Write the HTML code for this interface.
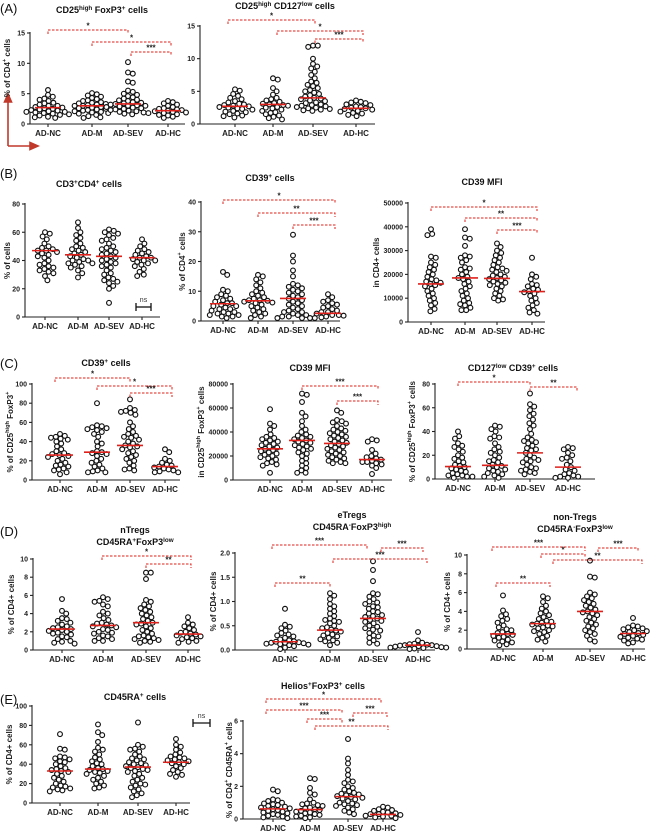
<!DOCTYPE html>
<html><head><meta charset="utf-8"><style>
html,body{margin:0;padding:0;background:#fff}
svg{display:block;font-family:"Liberation Sans",Arial,sans-serif}
</style></head><body>
<svg id="fig" width="667" height="833" viewBox="0 0 667 833" xmlns="http://www.w3.org/2000/svg">
<g font-size="13" fill="#111">
<text x="0" y="13">(A)</text>
<text x="0" y="178">(B)</text>
<text x="0" y="368">(C)</text>
<text x="0" y="536">(D)</text>
<text x="0" y="704">(E)</text>
</g>
<g stroke="#c0392b" stroke-width="1.6" fill="#c0392b">
<line x1="8" y1="146" x2="8" y2="100"/><polygon points="8,94 4.5,102 11.5,102"/>
<line x1="8" y1="146" x2="32" y2="146"/><polygon points="38,146 30,142.5 30,149.5"/>
</g>
</svg>
<script>
const categories = ["AD-NC","AD-M","AD-SEV","AD-HC"];
const a1NC=[5.6,4.8,4.5,4.2,4.0,3.8,3.5,3.4,3.2,3.0,3.0,2.8,2.7,2.6,2.5,2.4,2.3,2.2,2.1,2.0,2.0,1.9,1.8,1.7,1.6,1.5,1.4,1.2,1.1,1.0];
const a1M=[5.1,4.9,4.7,4.5,4.3,4.1,3.9,3.8,3.6,3.5,3.4,3.3,3.2,3.1,3.0,3.0,2.9,2.8,2.7,2.6,2.5,2.4,2.3,2.2,2.1,2.0,1.9,1.8,1.7,1.5,1.3,1.1,1.0];
const a1SEV=[10.2,8.5,8.3,7.0,6.8,5.5,5.3,5.0,4.8,4.6,4.4,4.2,4.0,3.9,3.8,3.6,3.5,3.4,3.3,3.2,3.1,3.0,3.0,2.9,2.8,2.7,2.6,2.5,2.4,2.3,2.2,2.1,2.0,1.9,1.8,1.7,1.6];
const a1HC=[3.8,3.6,3.4,3.2,3.0,2.8,2.6,2.5,2.4,2.3,2.2,2.1,2.0,1.9,1.8,1.6,1.5,1.4,1.2,1.0];
const a1Med=[2.7,3.0,3.3,2.2];
const a2NC=[5.3,5.1,4.6,4.3,4.0,3.8,3.5,3.3,3.1,3.0,2.9,2.8,2.7,2.6,2.5,2.4,2.3,2.2,2.0,1.9,1.8,1.6,1.5,1.3,1.2,1.0];
const a2M=[7.0,6.8,5.5,5.0,4.5,4.0,3.8,3.6,3.4,3.2,3.1,3.0,2.9,2.8,2.6,2.5,2.4,2.2,2.0,1.8,1.7,1.5,1.3,1.1,0.9,0.7];
const a2SEV=[12,12,11.8,10,9.2,8.8,8.5,8.0,7.5,7.0,6.5,6.3,6.0,5.8,5.5,5.2,5.0,4.8,4.6,4.4,4.2,4.0,3.9,3.8,3.6,3.5,3.3,3.2,3.0,2.9,2.8,2.7,2.6,2.5,2.4,2.3,2.2,2.1,2.0];
const a2HC=[3.6,3.4,3.3,3.2,3.0,2.9,2.7,2.6,2.5,2.4,2.3,2.2,2.0,1.9,1.7,1.6,1.4,1.2];
const a2Med=[2.7,3.0,4.0,2.4];
const b1NC=[60,59,57,55,52,50,49,48,47,47,46,45,44,43,42,40,38,37,36,35,34,33,32,31,29,26];
const b1M=[67,63,60,58,56,54,52,50,49,48,47,46,45,44,43,42,41,40,40,39,38,38,37,36,35,33,31,28];
const b1SEV=[62,61,60,59,58,56,55,54,52,50,49,48,47,46,45,44,43,42,41,40,39,38,37,36,35,33,31,30,28,27,26,25,24,22,20,10];
const b1HC=[55,52,50,48,47,46,45,44,43,42,42,41,40,40,39,38,37,36,34,32,30,29];
const b1Med=[47,44,43,42];
const b2NC=[16.5,15.5,10.5,10,9,8.5,8,7.5,7,6.5,6,6,5.5,5,5,4.5,4,4,3.5,3,3,2.5,2.5,2,2,1.5,1.5,1];
const b2M=[15.5,15,14,13,12,11,10,9.5,9,8.5,8,7.5,7,7,6.8,6.5,6.2,6,5.5,5,4.5,4,3.5,3,2.5,2,1.5,1];
const b2SEV=[29,22,20,17,15,12.5,12,11.5,11,10.5,10,9.5,9,8.5,8,7.5,7,6.5,6,5.5,5,4.5,4,3.5,3,3,2.5,2,2,1.5,1.5,1,1];
const b2HC=[9,8,7,6.5,6,5.5,5,4.5,4,3.5,3,3,2.5,2,2,1.8,1.5,1.2,1,1];
const b2Med=[5.8,6.8,7.6,2.6];
const b3NC=[39000,37000,36500,27500,27000,25000,24000,23000,22000,21000,20000,19000,18000,17500,17000,16500,16000,15500,15000,14000,13000,12000,11000,10000,9000,8000,7000,5500,4500];
const b3M=[39000,35500,35000,32000,28000,27500,27000,26000,25000,23000,22500,22000,21000,20000,19000,18500,18000,17000,16000,15000,14000,13000,12000,11000,10000,9000,8000,7500,7000,6000,5000,5000];
const b3SEV=[33000,31500,30000,29000,28000,27000,26000,25000,24000,23000,22500,22000,21500,21000,20000,19500,19000,18500,18000,17500,17000,16500,16000,15500,15000,14000,13000,12000,11000,10000,9500,9000];
const b3HC=[27000,20000,19000,18000,16000,15500,15000,14000,13500,13000,12500,12000,11000,10000,9000,8000,7000,6000,5000,4000,3500];
const b3Med=[16000,18500,18300,12800];
const c1NC=[48,46,45,44,43,42,40,38,35,32,30,28,27,26,25,24,22,20,18,16,15,14,12,11,10,8,6];
const c1M=[80,57,56,55,54,53,52,50,48,45,40,38,35,30,29,28,27,25,22,20,18,16,14,12,10,9,8,8];
const c1SEV=[84,75,73,72,71,70,68,60,56,53,50,48,46,45,44,42,40,38,36,35,34,32,30,28,26,24,22,20,18,15,12,11,10];
const c1HC=[32,29,22,20,18,16,15,14,13,12,11,10,9,8,8];
const c1Med=[26,29,36,14];
const c2NC=[59000,47000,45000,42000,38000,36000,35000,34000,33000,32000,31000,30000,29000,28000,27000,26000,25000,24000,23000,22000,21000,20000,19000,18000,17000,15000,14000,13000,12000,6000];
const c2M=[72000,71000,65000,56000,53000,49000,45000,42000,40000,38000,37000,36000,35000,34000,33000,32000,31000,30000,29000,28000,27000,26000,25000,23000,22000,20000,18000,16000,14000,12000,10000,8000,6000,6000];
const c2SEV=[58000,56000,50000,49000,48000,47000,45000,43000,42000,41000,40000,39000,38000,37000,36000,35000,34000,33000,32000,31000,30000,29000,28000,27000,26000,25000,24000,23000,22000,21000,20000,19000,18000,17000,16000,15000,14000,14000];
const c2HC=[34000,33000,32000,25000,22000,20000,19000,18000,17000,16000,15000,15000,14000,13000,12000,10000,5000];
const c2Med=[26000,33000,30500,17000];
const c3NC=[40,36,34,30,28,27,25,23,20,18,17,15,14,12,11,10,9,8,7,6,5,4,3,3,2,2,1];
const c3M=[45,44,42,40,36,35,34,30,27,25,23,22,20,18,16,15,14,12,11,10,9,8,7,6,5,4,3,2,1];
const c3SEV=[72,63,61,58,55,53,50,47,45,42,38,35,33,32,31,30,28,26,25,24,22,20,18,17,16,15,14,12,10,9,8,7,6,5,4];
const c3HC=[27,26,25,22,20,18,17,15,12,10,8,7,5,4,3,2,2,1,1];
const c3Med=[10.5,11.5,22,10];
const d1NC=[5.6,4.3,4.0,3.5,3.4,3.2,3.0,2.8,2.6,2.5,2.4,2.3,2.2,2.1,2.0,1.9,1.8,1.7,1.5,1.4,1.2,1.0,0.9,0.8,0.7];
const d1M=[5.8,5.6,5.4,5.3,5.0,4.8,4.2,4.0,3.8,3.5,3.3,3.0,2.9,2.8,2.7,2.6,2.5,2.3,2.2,2.0,1.9,1.8,1.6,1.5,1.3,1.2,1.0,1.0];
const d1SEV=[8.5,8.5,7.8,5.5,5.3,5.0,4.8,4.6,4.4,4.2,4.0,3.8,3.6,3.4,3.2,3.0,2.9,2.8,2.6,2.4,2.2,2.0,1.8,1.6,1.5,1.4,1.3,1.2,1.1,1.0,0.9,0.8];
const d1HC=[3.6,3.0,2.8,2.6,2.4,2.2,2.0,1.9,1.8,1.7,1.6,1.5,1.4,1.3,1.2,1.0,0.9,0.8];
const d1Med=[2.3,2.7,3.0,1.75];
const d2NC=[0.85,0.52,0.48,0.45,0.4,0.35,0.32,0.3,0.28,0.25,0.22,0.2,0.18,0.17,0.16,0.15,0.15,0.14,0.13,0.12,0.11,0.1,0.08,0.05,0.02];
const d2M=[1.17,1.12,1.05,0.95,0.9,0.85,0.8,0.75,0.7,0.65,0.62,0.6,0.58,0.55,0.5,0.47,0.45,0.42,0.4,0.38,0.35,0.32,0.3,0.28,0.25,0.22,0.2,0.18,0.15,0.1];
const d2SEV=[1.83,1.65,1.42,1.17,1.15,1.1,1.05,1.0,0.98,0.95,0.9,0.88,0.85,0.8,0.78,0.75,0.72,0.7,0.68,0.65,0.62,0.6,0.58,0.55,0.5,0.48,0.45,0.42,0.4,0.35,0.3,0.28,0.25,0.2,0.15,0.13];
const d2HC=[0.37,0.2,0.15,0.13,0.12,0.11,0.1,0.1,0.09,0.08,0.08,0.07,0.06,0.05,0.05,0.04,0.03,0.02];
const d2Med=[0.17,0.41,0.65,0.1];
const d3NC=[5.7,4.1,3.7,3.5,3.2,3.0,2.8,2.5,2.3,2.1,2.0,1.8,1.7,1.6,1.5,1.4,1.3,1.2,1.0,0.9,0.8,0.7,0.5,0.4];
const d3M=[5.6,5.4,5.0,4.6,4.3,4.0,3.8,3.6,3.4,3.2,3.0,2.9,2.8,2.7,2.6,2.5,2.4,2.3,2.2,2.0,1.9,1.8,1.6,1.4,1.2,1.0,0.8];
const d3SEV=[9.4,7.7,7.6,6.0,5.8,5.6,5.4,5.2,5.0,4.8,4.6,4.4,4.2,4.0,3.9,3.8,3.6,3.4,3.2,3.0,2.8,2.6,2.4,2.2,2.0,1.8,1.6,1.4,1.0,0.8];
const d3HC=[3.3,2.5,2.4,2.3,2.2,2.1,2.0,1.9,1.8,1.7,1.6,1.5,1.4,1.3,1.2,1.1,1.0,0.9,0.7,0.6];
const d3Med=[1.6,2.7,4.0,1.65];
const e1NC=[71,56,55,48,47,46,45,43,42,40,38,36,35,34,33,32,30,28,26,24,22,20,18,17,16,15,14,13,12];
const e1M=[81,73,70,63,57,55,53,50,47,45,43,41,40,38,36,35,34,33,32,31,30,28,26,24,22,20,18,16,15];
const e1SEV=[83,60,58,56,55,53,50,48,46,45,44,42,41,40,39,38,37,36,35,34,33,32,30,28,26,24,22,20,19,18,16,14,12,10,8,6];
const e1HC=[66,60,58,55,52,50,48,47,46,45,44,43,42,41,40,38,36,34,32,30,29,27];
const e1Med=[33,35,37,42];
const e2NC=[1.8,1.7,1.2,1.15,1.1,1.0,0.95,0.9,0.85,0.8,0.75,0.7,0.65,0.6,0.55,0.5,0.45,0.4,0.35,0.3,0.25,0.2,0.15,0.1,0.05];
const e2M=[2.5,2.45,1.9,1.6,1.5,1.2,1.0,0.95,0.9,0.85,0.8,0.7,0.65,0.6,0.55,0.5,0.45,0.4,0.35,0.3,0.25,0.2,0.15,0.1,0.05];
const e2SEV=[4.9,3.7,3.4,3.0,2.7,2.4,2.3,2.2,2.0,1.9,1.8,1.7,1.6,1.55,1.5,1.45,1.4,1.35,1.3,1.25,1.2,1.1,1.0,0.95,0.9,0.85,0.8,0.7,0.6,0.5,0.4,0.3];
const e2HC=[0.75,0.7,0.6,0.55,0.5,0.45,0.4,0.35,0.3,0.3,0.25,0.2,0.2,0.15,0.1,0.05];
const e2Med=[0.62,0.58,1.37,0.28];
const ticksA=[0,5,10,15];
const ticksB1=[0,20,40,60,80];
const ticksB2=[0,10,20,30,40];
const ticksB3=[0,10000,20000,30000,40000,50000];
const ticksC1=[0,20,40,60,80,100];
const ticksC2=[0,20000,40000,60000,80000];
const ticksC3=[0,20,40,60,80];
const ticksD=[0,2,4,6,8,10];
const ticksD2=[0,0.5,1.0,1.5,2.0];
const ticksE1=[0,20,40,60,80,100];
const ticksE2=[0,2,4,6];

const NS="http://www.w3.org/2000/svg";
const svg=document.getElementById('fig');
function mk(tag,attrs,parent){const e=document.createElementNS(NS,tag);for(const k in attrs)e.setAttribute(k,attrs[k]);(parent||svg).appendChild(e);return e;}
function rich(parent,segs){segs.forEach(s=>{const t=document.createElementNS(NS,'tspan');if(s[1]==='sup'){t.setAttribute('baseline-shift','super');t.setAttribute('font-size','70%');}t.textContent=s[0];parent.appendChild(t);});}

const panels=[
 {id:'a1',ax:30,xe:185,y0:124,yt:33,max:15,ticks:ticksA,fmt:v=>v,cx:[48,92,128,168],groups:[a1NC,a1M,a1SEV,a1HC],med:a1Med,
  title:[[[ 'CD25','n'],['high','sup'],[' FoxP3','n'],['+','sup'],[' cells','n']]],tx:102,ty:13,
  yl:[['% of CD4','n'],['+','sup'],[' cells','n']],ylx:8,ylc:68,
  br:[[48,128,30,'*'],[92,171,42,'*'],[131,171,52,'***']]},
 {id:'a2',ax:200,xe:375,y0:124,yt:26,max:15,ticks:ticksA,fmt:v=>v,cx:[235,273,313,356],groups:[a2NC,a2M,a2SEV,a2HC],med:a2Med,
  title:[[['CD25','n'],['high','sup'],[' CD127','n'],['low','sup'],[' cells','n']]],tx:285,ty:9,yl:null,
  br:[[228,315,20,'*'],[277,363,31,'*'],[315,363,39,'***']]},
 {id:'b1',ax:25,xe:160,y0:317,yt:204,max:80,ticks:ticksB1,fmt:v=>v,cx:[45,78,109,142],groups:[b1NC,b1M,b1SEV,b1HC],med:b1Med,
  title:[[['CD3','n'],['+','sup'],['CD4','n'],['+','sup'],[' cells','n']]],tx:89,ty:187,yl:[['% of cells','n']],ylx:8,br:[],ns:[136,151,307]},
 {id:'b2',ax:201,xe:340,y0:321,yt:202,max:40,ticks:ticksB2,fmt:v=>v,cx:[223,258,293,328],groups:[b2NC,b2M,b2SEV,b2HC],med:b2Med,
  title:[[['CD39','n'],['+','sup'],[' cells','n']]],tx:270,ty:181,yl:[['% of CD4','n'],['+','sup'],[' cells','n']],ylx:183,
  br:[[223,335,200,'*'],[258,335,213,'**'],[293,335,225,'***']]},
 {id:'b3',ax:408,xe:545,y0:322,yt:203,max:50000,ticks:ticksB3,fmt:v=>v,cx:[431,465,497,532],groups:[b3NC,b3M,b3SEV,b3HC],med:b3Med,
  title:[[['CD39 MFI','n']]],tx:482,ty:185,yl:[['in  CD4+ cells','n']],ylx:377,
  br:[[431,537,207,'*'],[465,537,218,'**'],[497,537,230,'***']]},
 {id:'c1',ax:32,xe:180,y0:480,yt:384,max:100,ticks:ticksC1,fmt:v=>v,cx:[60,97,130,165],groups:[c1NC,c1M,c1SEV,c1HC],med:c1Med,
  title:[[['CD39','n'],['+','sup'],[' cells','n']]],tx:106,ty:366,yl:[['% of CD25','n'],['high','sup'],[' FoxP3','n'],['+','sup']],ylx:11,
  br:[[55,130,378,'*'],[97,172,386,'*'],[130,172,393,'***']]},
 {id:'c2',ax:233,xe:392,y0:480,yt:384,max:80000,ticks:ticksC2,fmt:v=>v,cx:[270,302,337,372],groups:[c2NC,c2M,c2SEV,c2HC],med:c2Med,
  title:[[['CD39 MFI','n']]],tx:310,ty:371,yl:[['in CD25','n'],['high','sup'],[' FoxP3','n'],['+','sup'],[' cells','n']],ylx:202,
  br:[[302,378,386,'***'],[337,378,401,'***']]},
 {id:'c3',ax:435,xe:595,y0:479,yt:384,max:80,ticks:ticksC3,fmt:v=>v,cx:[458,495,530,568],groups:[c3NC,c3M,c3SEV,c3HC],med:c3Med,
  title:[[['CD127','n'],['low','sup'],[' CD39','n'],['+','sup'],[' cells','n']]],tx:513,ty:371,yl:[['% of CD25','n'],['high','sup'],[' FoxP3','n'],['+','sup'],[' cells','n']],ylx:413,
  br:[[458,530,382,'*'],[530,577,387,'**']]},
 {id:'d1',ax:33,xe:200,y0:650,yt:559,max:10,ticks:ticksD,fmt:v=>v,cx:[62,103,146,188],groups:[d1NC,d1M,d1SEV,d1HC],med:d1Med,
  title:[[['nTregs','n']],[['CD45RA','n'],['+','sup'],['FoxP3','n'],['low','sup']]],tx:135,ty:533,yl:[['% of  CD4+ cells','n']],ylx:12,
  br:[[102,191,556,'*'],[146,191,564,'**']]},
 {id:'d2',ax:235,xe:435,y0:650,yt:553,max:2,ticks:ticksD2,fmt:v=>v.toFixed(1),cx:[285,330,373,418],groups:[d2NC,d2M,d2SEV,d2HC],med:d2Med,
  title:[[['eTregs','n']],[['CD45RA','n'],['-','sup'],['FoxP3','n'],['high','sup']]],tx:352,ty:518,yl:[['% of  CD4+ cells','n']],ylx:214,
  br:[[272,367,545,'***'],[275,330,583,'**'],[381,423,548,'***'],[333,427,559,'***']]},
 {id:'d3',ax:467,xe:645,y0:649,yt:555,max:10,ticks:ticksD,fmt:v=>v,cx:[503,543,590,633],groups:[d3NC,d3M,d3SEV,d3HC],med:d3Med,
  title:[[['non-Tregs','n']],[['CD45RA','n'],['-','sup'],['FoxP3','n'],['low','sup']]],tx:575,ty:520,yl:[['% of  CD4+ cells','n']],ylx:448,
  br:[[492,585,547,'***'],[541,585,554,'*'],[553,642,560,'**'],[598,638,548,'***'],[496,550,583,'**']]},
 {id:'e1',ax:32,xe:190,y0:803,yt:706,max:100,ticks:ticksE1,fmt:v=>v,cx:[60,98,138,176],groups:[e1NC,e1M,e1SEV,e1HC],med:e1Med,
  title:[[['CD45RA','n'],['+','sup'],[' cells','n']]],tx:135,ty:700,yl:[['% of  CD4+ cells','n']],ylx:10,br:[],ns:[193,210,723]},
 {id:'e2',ax:243,xe:397,y0:819,yt:721,max:6,ticks:ticksE2,fmt:v=>v,cx:[273,310,348,383],groups:[e2NC,e2M,e2SEV,e2HC],med:e2Med,
  title:[[['Helios','n'],['+','sup'],['FoxP3','n'],['+','sup'],[' cells','n']]],tx:323,ty:689,yl:[['% of CD4','n'],['+','sup'],['  CD45RA','n'],['+','sup'],[' cells','n']],ylx:230,
  br:[[266,381,699,'*'],[266,342,710,'***'],[307,342,719,'***'],[315,388,726,'**'],[353,387,713,'***']]}
];

function swarm(ys,r){const placed=[];const order=ys.map((y,i)=>i).sort((a,b)=>ys[a]-ys[b]);
 const res=new Array(ys.length);
 order.forEach(i=>{const y=ys[i];let best=0;
  for(let k=0;k<200;k++){const off=(k%2?1:-1)*Math.ceil(k/2)*0.6;let ok=true;
   for(const p of placed){const dx=p[0]-off,dy=p[1]-y;if(dx*dx+dy*dy<(2*r)*(2*r)){ok=false;break;}}
   if(ok){best=off;break;}}
  placed.push([best,y]);res[i]=best;});
 return res;}

panels.forEach(p=>{
 const g=mk('g',{});
 
 
 const ys=v=>p.y0-v/p.max*(p.y0-p.yt);
 p.title.forEach((line,li)=>{const t=mk('text',{x:p.tx,y:p.ty+li*12,'text-anchor':'middle','font-size':'9','font-weight':'bold',fill:'#111'},g);
  
  
  rich(t,line);});
 const ax=mk('g',{stroke:'#222','stroke-width':'1.1',fill:'none'},g);
 
 
 mk('line',{x1:p.ax,y1:p.yt-1,x2:p.ax,y2:p.y0},ax);
 mk('line',{x1:p.ax,y1:p.y0,x2:p.xe,y2:p.y0},ax);
 p.ticks.forEach(v=>{const y=ys(v);mk('line',{x1:p.ax-3,y1:y,x2:p.ax,y2:y},ax);
  const t=mk('text',{x:p.ax-5,y:y+2.5,'text-anchor':'end','font-size':'7','font-weight':'bold',fill:'#222'},g);
  
  
  t.textContent=p.fmt(v);});
 categories.forEach((c,i)=>{mk('line',{x1:p.cx[i],y1:p.y0,x2:p.cx[i],y2:p.y0+3},ax);
  const t=mk('text',{x:p.cx[i],y:p.y0+12,'text-anchor':'middle','font-size':'8','font-weight':'bold',fill:'#222'},g);
  
  
  t.textContent=c;});
 if(p.yl){const cy=p.ylc||(p.y0+p.yt)/2;const t=mk('text',{x:p.ylx,y:cy,transform:`rotate(-90 ${p.ylx} ${cy})`,'text-anchor':'middle','font-size':'8','font-weight':'bold',fill:'#222','dominant-baseline':'middle'},g);
  
  
  rich(t,p.yl);}
 p.groups.forEach((vals,gi)=>{const r=2.4;const py=vals.map(ys);const offs=swarm(py,r);
  const gg=mk('g',{},g);
  
  
  vals.forEach((v,i)=>{const c=mk('circle',{cx:p.cx[gi]+offs[i],cy:py[i],r:r,fill:'#fff',stroke:'#111','stroke-width':'1.15'},gg);
   
   });
  const my=ys(p.med[gi]);
  const m=mk('line',{x1:p.cx[gi]-13,y1:my,x2:p.cx[gi]+13,y2:my,stroke:'#e0201b','stroke-width':'1.6'},gg);
  
  });
 p.br.forEach(b=>{const bg=mk('g',{},g);
  
  
  mk('path',{d:`M${b[0]},${b[2]+4} V${b[2]} H${b[1]} V${b[2]+4}`,fill:'none',stroke:'#e0201b','stroke-width':'1','stroke-dasharray':'2.5,1.5'},bg);
  const t=mk('text',{x:(b[0]+b[1])/2,y:b[2]-1.5,'text-anchor':'middle','font-size':'8','font-weight':'bold',fill:'#222'},bg);
  t.textContent=b[3];});
 if(p.ns){const n=p.ns;const ng=mk('g',{stroke:'#111','stroke-width':'1.3'},g);
  
  
  mk('line',{x1:n[0],y1:n[2],x2:n[1],y2:n[2]},ng);mk('line',{x1:n[0],y1:n[2]-4,x2:n[0],y2:n[2]+4},ng);mk('line',{x1:n[1],y1:n[2]-4,x2:n[1],y2:n[2]+4},ng);
  const t=mk('text',{x:(n[0]+n[1])/2,y:n[2]-5,'text-anchor':'middle','font-size':'7',fill:'#333',stroke:'none'},ng);t.textContent='ns';}
});
</script>
</body></html>
